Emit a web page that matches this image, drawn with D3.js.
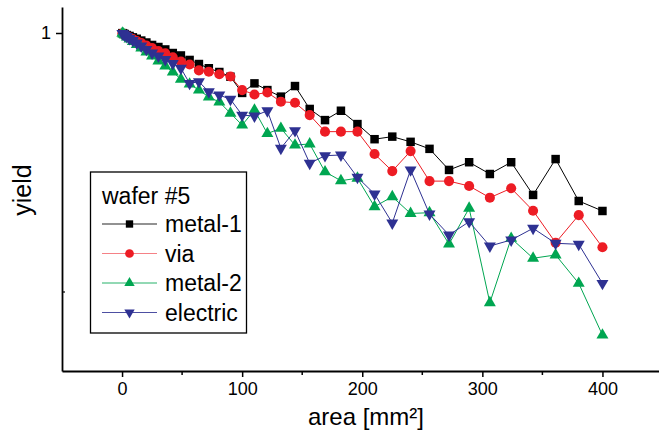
<!DOCTYPE html>
<html>
<head>
<meta charset="utf-8">
<script src="https://cdn.jsdelivr.net/npm/d3@7"></script>
<style>
  html, body { margin: 0; padding: 0; background: #fff; }
  svg { display: block; }
  text { font-family: "Liberation Sans", Arial, Helvetica, sans-serif; fill: #000; }
</style>
</head>
<body>
<svg id="chart" width="659" height="439"></svg>
<script>
// ---- data ----
const area = [0.25, 1, 2.25, 4, 6.25, 9, 12.25, 16, 20.25, 25, 30.25, 36, 42.25, 49, 56.25, 64, 72.25, 81, 90.25, 100,
  110.25, 121, 132.25, 144, 156.25, 169, 182.25, 196, 210.25, 225, 240.25, 256, 272.25, 289, 306.25, 324, 342.25, 361, 380.25, 400];

const metal1 = [0.999, 0.996, 0.991, 0.982, 0.974, 0.962, 0.950, 0.935, 0.919, 0.899, 0.883, 0.864, 0.837, 0.819, 0.787, 0.759, 0.731, 0.707, 0.678, 0.587,
  0.639, 0.602, 0.568, 0.624, 0.509, 0.461, 0.501, 0.445, 0.389, 0.398, 0.380, 0.357, 0.296, 0.317, 0.2855, 0.317, 0.237, 0.326, 0.2246, 0.2055];

const via = [0.996, 0.991, 0.982, 0.974, 0.961, 0.948, 0.931, 0.915, 0.895, 0.875, 0.852, 0.835, 0.806, 0.775, 0.756, 0.717, 0.709, 0.693, 0.679, 0.602,
  0.579, 0.589, 0.543, 0.538, 0.482, 0.416, 0.416, 0.416, 0.341, 0.293, 0.350, 0.268, 0.268, 0.2566, 0.2313, 0.2514, 0.206, 0.155, 0.198, 0.1488];

const metal2 = [0.998, 0.991, 0.982, 0.965, 0.948, 0.927, 0.903, 0.875, 0.845, 0.815, 0.780, 0.746, 0.707, 0.663, 0.635, 0.602, 0.566, 0.5415, 0.490, 0.441,
  0.504, 0.409, 0.4286, 0.369, 0.373, 0.291, 0.269, 0.275, 0.2135, 0.2333, 0.201, 0.2024, 0.1532, 0.2105, 0.0909, 0.1612, 0.135, 0.139, 0.108, 0.0682];

const electric = [0.997, 0.991, 0.982, 0.969, 0.952, 0.935, 0.915, 0.891, 0.864, 0.837, 0.815, 0.790, 0.7625, 0.731, 0.639, 0.6486, 0.593, 0.576, 0.5547, 0.482,
  0.478, 0.501, 0.359, 0.4196, 0.314, 0.336, 0.338, 0.2772, 0.239, 0.1847, 0.296, 0.200, 0.166, 0.1868, 0.1505, 0.1588, 0.1762, 0.1542, 0.1528, 0.108];

const seriesNames = ["metal-1", "via", "metal-2", "electric"];
const xTicks = [0, 100, 200, 300, 400];
const xMinorTicks = [50, 150, 250, 350];
const yTicks = [1];
const legendTitle = "wafer #5";

// ---- layout ----
const svg = d3.select("#chart");
const plotLeft = 62, plotRight = 662.5, plotTop = 7, plotBottom = 371;

const x = d3.scaleLinear().domain([-50, 450]).range([plotLeft, plotRight]);
const yRef = d3.scaleLog().domain([0.1, 1]).range([292, 33]);
const y = d3.scaleLog().domain([yRef.invert(plotBottom), yRef.invert(plotTop)]).range([plotBottom, plotTop]);

const styles = [
  { name: seriesNames[0], values: metal1,   color: "#000000", line: "#000000", sym: d3.symbolSquare,   size: 72, rot: 0 },
  { name: seriesNames[1], values: via,      color: "#ed1c24", line: "#ed1c24", sym: d3.symbolCircle,   size: 80, rot: 0 },
  { name: seriesNames[2], values: metal2,   color: "#00a651", line: "#00a651", sym: d3.symbolTriangle, size: 62, rot: 0 },
  { name: seriesNames[3], values: electric, color: "#2e3192", line: "#2e3192", sym: d3.symbolTriangle, size: 62, rot: 180 }
];

// ---- series ----
const lineGen = d3.line().x((d, i) => x(area[i])).y(d => y(d));
styles.forEach(s => {
  const g = svg.append("g");
  g.append("path").datum(s.values)
    .attr("d", lineGen)
    .attr("fill", "none")
    .attr("stroke", s.line)
    .attr("stroke-width", 1);
  g.selectAll("path.m").data(s.values).enter().append("path")
    .attr("class", "m")
    .attr("d", d3.symbol().type(s.sym).size(s.size))
    .attr("transform", (d, i) => `translate(${x(area[i])},${y(d)}) rotate(${s.rot})`)
    .attr("fill", s.color);
});

// ---- axes ----
const xAxis = svg.append("g").attr("transform", `translate(0,${plotBottom})`)
  .call(d3.axisBottom(x).tickValues(xTicks).tickSize(6).tickSizeOuter(0).tickPadding(5));
xAxis.selectAll("text").attr("font-size", 18).attr("font-family", '"Liberation Sans", Arial, sans-serif');
xAxis.select(".domain").attr("stroke-width", 1.8);
xAxis.selectAll(".tick line").attr("stroke-width", 1.5);
svg.append("g").attr("transform", `translate(0,${plotBottom})`)
  .selectAll("line").data(xMinorTicks).enter().append("line")
  .attr("x1", d => x(d)).attr("x2", d => x(d)).attr("y1", 0).attr("y2", 4)
  .attr("stroke", "#000").attr("stroke-width", 1.5);

const yAxis = svg.append("g").attr("transform", `translate(${plotLeft},0)`)
  .call(d3.axisLeft(y).tickValues(yTicks).tickFormat(d3.format("d")).tickSize(6).tickSizeOuter(0).tickPadding(5));
yAxis.selectAll("text").attr("font-size", 18).attr("font-family", '"Liberation Sans", Arial, sans-serif');
yAxis.select(".domain").attr("stroke-width", 1.8);
yAxis.selectAll(".tick line").attr("stroke-width", 1.5);
svg.append("line")
  .attr("x1", plotLeft).attr("x2", plotLeft + 3).attr("y1", y(0.1)).attr("y2", y(0.1))
  .attr("stroke", "#000").attr("stroke-width", 1.2);

// ---- axis titles ----
svg.append("text").attr("x", 366).attr("y", 425).attr("text-anchor", "middle")
  .attr("font-size", 24).text("area [mm²]");
svg.append("text").attr("transform", "translate(31,190) rotate(-90)").attr("text-anchor", "middle")
  .attr("font-size", 25).text("yield");

// ---- legend ----
const lg = svg.append("g");
lg.append("rect").attr("x", 90.5).attr("y", 172).attr("width", 156).attr("height", 161)
  .attr("fill", "#fff").attr("stroke", "#000").attr("stroke-width", 1.3);
lg.append("text").attr("x", 102).attr("y", 204).attr("font-size", 23).text(legendTitle);
styles.forEach((s, i) => {
  const by = 232 + i * 29.5;
  const ly = by - 8;
  lg.append("line").attr("x1", 102).attr("x2", 157).attr("y1", ly).attr("y2", ly)
    .attr("stroke", s.line).attr("stroke-width", 1).attr("opacity", i === 1 ? 0.55 : 0.85);
  lg.append("path").attr("d", d3.symbol().type(s.sym).size(s.size * 0.75))
    .attr("transform", `translate(129.5,${ly}) rotate(${s.rot})`).attr("fill", s.color);
  lg.append("text").attr("x", 165).attr("y", by).attr("font-size", 23).text(s.name);
});
</script>
</body>
</html>
